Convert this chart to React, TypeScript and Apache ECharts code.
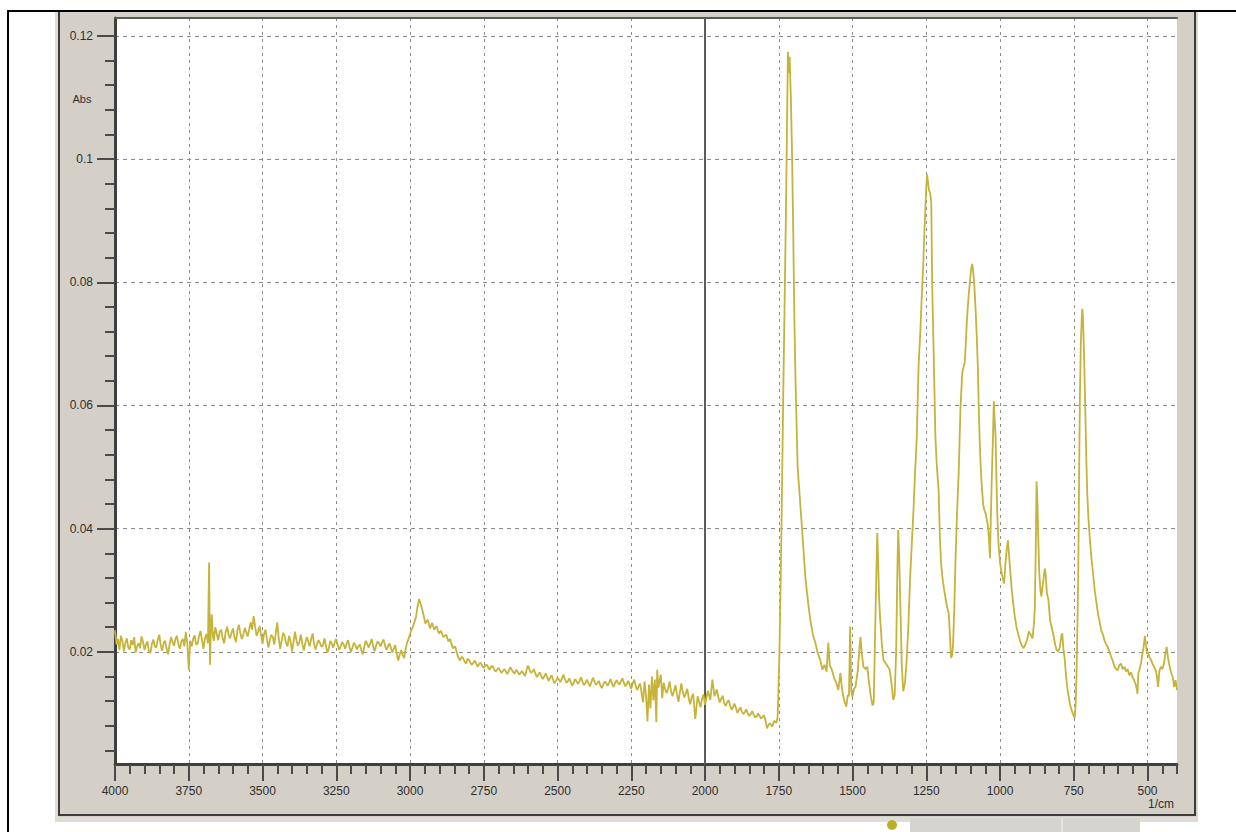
import React, { useEffect, useRef } from "react";
import * as echarts from "echarts";

// Spectrum: [wavenumber (1/cm), absorbance]
const highRegion: [number, number][] = [
  [4000, 0.0235], [3995, 0.0212], [3990, 0.0221], [3985, 0.0203], [3980, 0.0226], [3975, 0.0218],
  [3970, 0.0201], [3965, 0.0214], [3960, 0.0222], [3955, 0.0207], [3950, 0.0204], [3945, 0.0219],
  [3940, 0.0211], [3935, 0.0224], [3930, 0.0199], [3925, 0.0209], [3920, 0.0214], [3915, 0.0206],
  [3910, 0.0225], [3905, 0.0216], [3900, 0.0203], [3895, 0.0212], [3890, 0.0217], [3885, 0.0201],
  [3880, 0.0198], [3875, 0.0213], [3870, 0.022], [3865, 0.0209], [3860, 0.0207], [3855, 0.0219],
  [3850, 0.0228], [3845, 0.0211], [3840, 0.0202], [3835, 0.0215], [3830, 0.0218], [3825, 0.0205],
  [3820, 0.0196], [3815, 0.0212], [3810, 0.0224], [3805, 0.0216], [3800, 0.021], [3795, 0.0221],
  [3790, 0.0226], [3785, 0.0212], [3780, 0.0205], [3775, 0.0217], [3770, 0.0221], [3765, 0.0209],
  [3760, 0.0232], [3755, 0.0214], [3750, 0.0171], [3745, 0.0218], [3740, 0.0209], [3735, 0.0221],
  [3730, 0.0227], [3725, 0.0212], [3720, 0.0213], [3715, 0.0226], [3710, 0.0234], [3705, 0.0219],
  [3700, 0.0205], [3695, 0.0222], [3690, 0.0229], [3685, 0.0214], [3681, 0.0345], [3678, 0.0179],
  [3675, 0.0238], [3672, 0.0261], [3668, 0.0226], [3665, 0.0218], [3660, 0.024], [3655, 0.0229],
  [3650, 0.0219], [3645, 0.0233], [3640, 0.0236], [3635, 0.0222], [3630, 0.0214], [3625, 0.0232],
  [3620, 0.0241], [3615, 0.0228], [3610, 0.0222], [3605, 0.0231], [3600, 0.0238], [3595, 0.0224],
  [3590, 0.0216], [3585, 0.0235], [3580, 0.0244], [3575, 0.023], [3570, 0.0221], [3565, 0.0228],
  [3560, 0.0239], [3555, 0.0232], [3550, 0.0225], [3545, 0.0237], [3540, 0.0248], [3535, 0.0236],
  [3530, 0.0258], [3525, 0.0241], [3520, 0.0226], [3515, 0.0233], [3510, 0.0242], [3505, 0.0228],
  [3500, 0.0213], [3495, 0.0229], [3490, 0.0236], [3485, 0.0221], [3480, 0.0207], [3475, 0.0219],
  [3470, 0.0228], [3465, 0.0224], [3460, 0.0212], [3455, 0.0231], [3450, 0.0248], [3445, 0.0222],
  [3440, 0.0205], [3435, 0.0218], [3430, 0.0231], [3425, 0.0226], [3420, 0.0214], [3415, 0.0209],
  [3410, 0.0226], [3405, 0.0218], [3400, 0.0201], [3395, 0.0215], [3390, 0.0233], [3385, 0.0219],
  [3380, 0.021], [3375, 0.0216], [3370, 0.0228], [3365, 0.0213], [3360, 0.0202], [3355, 0.0214],
  [3350, 0.0224], [3345, 0.0217], [3340, 0.0209], [3335, 0.0221], [3330, 0.023], [3325, 0.0212],
  [3320, 0.0204], [3315, 0.0213], [3310, 0.0219], [3305, 0.0214], [3300, 0.0208], [3295, 0.0211],
  [3290, 0.0222], [3285, 0.021], [3280, 0.0199], [3275, 0.0206], [3270, 0.0218], [3265, 0.0213],
  [3260, 0.0207], [3255, 0.0216], [3250, 0.0221], [3245, 0.0211], [3240, 0.0203], [3235, 0.0209],
  [3230, 0.0216], [3225, 0.0212], [3220, 0.0205], [3215, 0.0213], [3210, 0.0219], [3205, 0.0208],
  [3200, 0.02], [3195, 0.0207], [3190, 0.0215], [3185, 0.0211], [3180, 0.0204], [3175, 0.0209],
  [3170, 0.0212], [3165, 0.0203], [3160, 0.0196], [3155, 0.0208], [3150, 0.0218], [3145, 0.0213],
  [3140, 0.0207], [3135, 0.0214], [3130, 0.0221], [3125, 0.0209], [3120, 0.0201], [3115, 0.021],
  [3110, 0.0217], [3105, 0.0214], [3100, 0.0209], [3095, 0.0215], [3090, 0.022], [3085, 0.0211],
  [3080, 0.0203], [3075, 0.0208], [3070, 0.0214], [3065, 0.0207], [3060, 0.0199], [3055, 0.0205],
  [3050, 0.0211], [3045, 0.0197], [3040, 0.0186], [3035, 0.0195], [3030, 0.0203], [3025, 0.0196],
  [3020, 0.019], [3015, 0.0204], [3010, 0.0215], [3005, 0.0221],
];

const midRegion: [number, number][] = [
  [3000, 0.0229], [2990, 0.0241], [2980, 0.0256], [2975, 0.0272], [2969, 0.0286], [2962, 0.0275],
  [2955, 0.0262], [2948, 0.0246], [2940, 0.0252], [2932, 0.0238], [2925, 0.0247], [2918, 0.0236],
  [2910, 0.0242], [2902, 0.023], [2895, 0.0234], [2887, 0.0224], [2877, 0.0228], [2870, 0.0217],
  [2864, 0.0221], [2855, 0.0206], [2847, 0.0209], [2838, 0.0193],
  [2830, 0.0186], [2825, 0.0192], [2820, 0.019], [2815, 0.0184], [2810, 0.0181], [2805, 0.0189],
  [2800, 0.0187], [2795, 0.0182], [2790, 0.0179], [2785, 0.0183], [2780, 0.0186], [2775, 0.018],
  [2770, 0.0176], [2765, 0.0181], [2760, 0.0182], [2755, 0.0177], [2750, 0.0174], [2745, 0.0178],
  [2740, 0.0179], [2735, 0.0175], [2730, 0.0171], [2725, 0.0176], [2720, 0.0177], [2715, 0.0172],
  [2710, 0.0168], [2705, 0.0171], [2700, 0.0174], [2695, 0.017], [2690, 0.0166], [2685, 0.0169],
  [2680, 0.0172], [2675, 0.0168], [2670, 0.0164], [2665, 0.017], [2660, 0.0175], [2655, 0.0171],
  [2650, 0.0167], [2645, 0.0165], [2640, 0.0171], [2635, 0.0168], [2630, 0.0163], [2625, 0.0166],
  [2620, 0.0169], [2615, 0.0164], [2610, 0.0161], [2605, 0.017], [2600, 0.0178], [2595, 0.0171],
  [2590, 0.0166], [2585, 0.0168], [2580, 0.0172], [2575, 0.0165], [2570, 0.0159], [2565, 0.0163],
  [2560, 0.0167], [2555, 0.0161], [2550, 0.0156], [2545, 0.016], [2540, 0.0165], [2535, 0.0159],
  [2530, 0.0153], [2525, 0.0158], [2520, 0.0162], [2515, 0.0155], [2510, 0.0149], [2505, 0.0153],
  [2500, 0.0158], [2495, 0.0155], [2490, 0.0151], [2485, 0.0157], [2480, 0.0163], [2475, 0.0156],
  [2470, 0.015], [2465, 0.0152], [2460, 0.0157], [2455, 0.0151], [2450, 0.0145], [2445, 0.015],
  [2440, 0.0156], [2435, 0.0152], [2430, 0.0148], [2425, 0.0153], [2420, 0.0159], [2415, 0.0151],
  [2410, 0.0146], [2405, 0.015], [2400, 0.0155], [2395, 0.0149], [2390, 0.0144], [2385, 0.0151],
  [2380, 0.0158], [2375, 0.0152], [2370, 0.0147], [2365, 0.0149], [2360, 0.0153], [2355, 0.0146],
  [2350, 0.0141], [2345, 0.0147], [2340, 0.0152], [2335, 0.0149], [2330, 0.0145], [2325, 0.015],
  [2320, 0.0156], [2315, 0.0148], [2310, 0.0143], [2305, 0.0149], [2300, 0.0154], [2295, 0.015],
  [2290, 0.0147], [2285, 0.0152], [2280, 0.0157], [2275, 0.015], [2270, 0.0144], [2265, 0.0148],
  [2260, 0.0153], [2255, 0.0146], [2250, 0.014], [2245, 0.0149], [2240, 0.0155], [2235, 0.0145],
  [2230, 0.0138], [2225, 0.0144], [2220, 0.0149],
  [2210, 0.0118], [2205, 0.0152], [2200, 0.0129], [2195, 0.0087], [2190, 0.0147], [2185, 0.0108],
  [2180, 0.016], [2175, 0.0121], [2170, 0.0155], [2165, 0.0086], [2162, 0.0171], [2158, 0.0142],
  [2150, 0.0163], [2145, 0.0125], [2140, 0.015], [2135, 0.0139], [2130, 0.0133], [2125, 0.0141],
  [2120, 0.0152], [2115, 0.0136], [2110, 0.0128], [2105, 0.0137], [2100, 0.0146], [2095, 0.0131],
  [2090, 0.0119], [2085, 0.0135], [2080, 0.0149], [2075, 0.0134], [2070, 0.0126], [2065, 0.0133],
  [2060, 0.014], [2055, 0.0124], [2050, 0.0115], [2045, 0.0127], [2040, 0.0132], [2033, 0.0091],
  [2025, 0.0128], [2020, 0.0119], [2015, 0.011], [2010, 0.0124], [2005, 0.0131], [2000, 0.0114],
  [1995, 0.0126], [1990, 0.0137], [1982, 0.0122], [1975, 0.0155], [1968, 0.0128], [1960, 0.0139],
  [1955, 0.0127], [1950, 0.0118], [1945, 0.0124], [1940, 0.0129], [1935, 0.0117], [1930, 0.0112],
  [1925, 0.0118], [1920, 0.0122], [1915, 0.0113], [1910, 0.0106], [1905, 0.011], [1900, 0.0116],
  [1895, 0.0109], [1890, 0.0101], [1885, 0.0106], [1880, 0.011], [1875, 0.0103], [1870, 0.0099],
  [1865, 0.0102], [1860, 0.0107], [1855, 0.01], [1850, 0.0096], [1845, 0.0099], [1840, 0.0104],
  [1835, 0.0098], [1830, 0.0094], [1825, 0.0095], [1820, 0.01], [1815, 0.0096], [1810, 0.0092],
  [1805, 0.0094], [1800, 0.0097], [1795, 0.0089], [1790, 0.0076], [1785, 0.0081], [1780, 0.0084],
  [1772, 0.0079], [1765, 0.0088], [1758, 0.0085], [1754, 0.0094],
];

const fingerprintRegion: [number, number][] = [
  [1752, 0.012], [1748, 0.0192], [1744, 0.03], [1740, 0.0426], [1735, 0.0609], [1730, 0.0771],
  [1726, 0.09], [1722, 0.1052], [1719, 0.1174], [1716, 0.114], [1713, 0.1166], [1709, 0.11],
  [1705, 0.101], [1701, 0.0885], [1697, 0.0739], [1693, 0.0637], [1686, 0.05], [1677, 0.044],
  [1670, 0.0393], [1660, 0.0322], [1650, 0.0278], [1643, 0.0252], [1635, 0.023], [1626, 0.0215],
  [1618, 0.0198], [1610, 0.0188], [1602, 0.0171], [1595, 0.0179], [1588, 0.0168], [1582, 0.0215],
  [1577, 0.0178], [1570, 0.0171], [1562, 0.0157], [1555, 0.015], [1548, 0.0138], [1541, 0.0166],
  [1536, 0.0142], [1531, 0.0127], [1526, 0.0118], [1521, 0.0111], [1516, 0.013], [1512, 0.0128],
  [1508, 0.0241], [1504, 0.0135], [1500, 0.0127], [1495, 0.014], [1490, 0.0143], [1482, 0.017],
  [1476, 0.0209], [1473, 0.0224], [1468, 0.0195], [1463, 0.0176], [1456, 0.0172], [1450, 0.0176],
  [1444, 0.015], [1438, 0.0128], [1432, 0.0113], [1428, 0.0118], [1424, 0.0215], [1419, 0.033],
  [1416, 0.0393], [1413, 0.0345], [1410, 0.029], [1406, 0.0252], [1400, 0.021], [1395, 0.0187],
  [1388, 0.0182], [1380, 0.0176], [1374, 0.0171], [1368, 0.015], [1362, 0.0122], [1357, 0.013],
  [1352, 0.02], [1348, 0.033], [1345, 0.0398], [1342, 0.036], [1338, 0.028], [1333, 0.018],
  [1328, 0.0136], [1322, 0.015], [1316, 0.0189], [1310, 0.025], [1305, 0.0317], [1299, 0.0375],
  [1293, 0.0433], [1288, 0.049], [1282, 0.0549], [1276, 0.0665], [1270, 0.072], [1265, 0.078],
  [1260, 0.083], [1257, 0.0874], [1253, 0.092], [1250, 0.0955], [1247, 0.0975], [1244, 0.0962],
  [1241, 0.095], [1237, 0.0945], [1233, 0.093], [1230, 0.08], [1226, 0.0711], [1222, 0.062],
  [1219, 0.0549], [1214, 0.05], [1208, 0.0462], [1204, 0.039], [1200, 0.0345], [1195, 0.032],
  [1190, 0.0303], [1184, 0.0285], [1178, 0.027], [1174, 0.0263], [1170, 0.023], [1166, 0.019],
  [1162, 0.0195], [1159, 0.0213], [1155, 0.027], [1151, 0.0346], [1146, 0.042], [1140, 0.0491],
  [1134, 0.0595], [1128, 0.0653], [1124, 0.0662], [1120, 0.0668], [1116, 0.07], [1112, 0.074],
  [1106, 0.078], [1101, 0.0805], [1098, 0.0821], [1094, 0.083], [1091, 0.0818], [1087, 0.0795],
  [1083, 0.0758], [1079, 0.0715], [1075, 0.066], [1072, 0.0595], [1069, 0.0545], [1066, 0.0508],
  [1062, 0.047], [1057, 0.0439], [1053, 0.043], [1049, 0.0425], [1045, 0.0415], [1041, 0.0405],
  [1037, 0.038], [1034, 0.0352], [1031, 0.042], [1028, 0.048], [1024, 0.0545], [1021, 0.0607],
  [1018, 0.0575], [1015, 0.0549], [1012, 0.048], [1009, 0.042], [1005, 0.0375], [1000, 0.0345],
  [995, 0.033], [990, 0.0318], [986, 0.0311], [982, 0.034], [977, 0.0368], [973, 0.0381],
  [969, 0.0355], [965, 0.033], [960, 0.03], [955, 0.0278], [950, 0.0258], [944, 0.024],
  [938, 0.0228], [932, 0.0218], [926, 0.021], [920, 0.0206], [914, 0.0212], [908, 0.022],
  [902, 0.0233], [896, 0.0228], [890, 0.0222], [885, 0.0245], [882, 0.0271], [879, 0.036],
  [876, 0.0477], [873, 0.044], [870, 0.038], [867, 0.033], [863, 0.03], [860, 0.029],
  [856, 0.0305], [852, 0.032], [848, 0.0335], [845, 0.0325], [841, 0.0295], [836, 0.0285],
  [830, 0.025], [824, 0.0238], [818, 0.0225], [813, 0.0212], [808, 0.0203], [802, 0.0201],
  [797, 0.0208], [792, 0.0226], [789, 0.023], [785, 0.0205], [781, 0.019], [776, 0.016],
  [770, 0.0135], [763, 0.0116], [757, 0.0105], [752, 0.0098], [747, 0.0093], [744, 0.011],
  [741, 0.0154], [738, 0.023], [735, 0.0316], [732, 0.0478], [729, 0.062], [726, 0.07],
  [723, 0.074], [721, 0.0757], [719, 0.0745], [716, 0.07], [713, 0.064], [710, 0.0575],
  [707, 0.0505], [704, 0.0455], [700, 0.0415], [695, 0.038], [690, 0.0352], [685, 0.033],
  [679, 0.03], [673, 0.028], [668, 0.0262], [662, 0.0248], [657, 0.0235], [651, 0.0228],
  [646, 0.0219], [640, 0.0212], [635, 0.0208], [629, 0.02], [623, 0.0192], [618, 0.0186],
  [612, 0.0176], [606, 0.0172], [601, 0.017], [596, 0.0178], [590, 0.0181], [584, 0.0172],
  [578, 0.0176], [573, 0.0168], [567, 0.0172], [562, 0.0162], [556, 0.0167], [550, 0.0158],
  [545, 0.0154], [540, 0.0147], [536, 0.0139], [534, 0.0132], [531, 0.0165], [527, 0.0172],
  [522, 0.0181], [518, 0.0195], [513, 0.0208], [509, 0.0226], [505, 0.021], [502, 0.0197],
  [498, 0.02], [494, 0.0192], [489, 0.0188], [483, 0.0181], [478, 0.0176], [472, 0.017],
  [468, 0.016], [464, 0.0143], [460, 0.0168], [455, 0.0176], [450, 0.0172], [444, 0.0181],
  [440, 0.0195], [435, 0.0208], [431, 0.0192], [427, 0.0181], [423, 0.0172], [419, 0.0165],
  [414, 0.0158], [410, 0.0143], [405, 0.0154], [400, 0.0138],
];

const xMajorTicks = [4000, 3750, 3500, 3250, 3000, 2750, 2500, 2250, 2000, 1750, 1500, 1250, 1000, 750, 500];
const yMajorTicks = [0.02, 0.04, 0.06, 0.08, 0.1, 0.12];
const cursorWavenumber = 2000;
const xRange = [400, 4000];
const yRange = [0.0018, 0.1229];
const xMinorStep = 50;
const yMinorStep = 0.004;

const xMinorTicks: number[] = [];
for (let v = xRange[0]; v <= xRange[1]; v += xMinorStep) xMinorTicks.push(v);
const yMinorTicks: number[] = [];
for (let k = 1; k * yMinorStep <= yRange[1]; k++) yMinorTicks.push(Number((k * yMinorStep).toFixed(4)));

const LINE_COLOR = "#c6b33a";
const AXIS_DARK = "#3f3f3f";
const TICK_COLOR = "#4a4a4a";
const GRID_DASH = "#8e8e8e";
const PANEL = "#d4d0c8";
const FONT = "'Liberation Sans', Arial, sans-serif";

export default function App() {
  const ref = useRef<HTMLDivElement>(null);

  useEffect(() => {
    if (!ref.current) return;
    const chart = echarts.init(ref.current, null, { renderer: "svg" });
    const spectrum = [...highRegion, ...midRegion, ...fingerprintRegion];

    const labelStyle = { color: "#2e2e2e", fontSize: 12, fontFamily: FONT };

    chart.setOption({
      animation: false,
      backgroundColor: "#ffffff",
      grid: { left: 115, top: 18, right: 59, bottom: 68, show: true, backgroundColor: "#ffffff", borderWidth: 0 },
      xAxis: [
        {
          type: "value", min: xRange[0], max: xRange[1], inverse: true, position: "bottom",
          axisLine: { show: true, onZero: false, lineStyle: { color: AXIS_DARK, width: 3 } },
          axisTick: { show: true, customValues: xMajorTicks, length: 17, lineStyle: { color: TICK_COLOR, width: 2 } },
          axisLabel: { show: true, customValues: xMajorTicks, margin: 21, ...labelStyle, formatter: (v: number) => String(v) },
          splitLine: { show: true, lineStyle: { color: GRID_DASH, width: 1, type: [3, 4] } },
        },
        {
          type: "value", min: xRange[0], max: xRange[1], inverse: true, position: "bottom",
          axisLine: { show: false, onZero: false },
          axisTick: { show: true, customValues: xMinorTicks, length: 10, lineStyle: { color: TICK_COLOR, width: 2 } },
          axisLabel: { show: false },
          splitLine: { show: false },
        },
        {
          type: "value", min: xRange[0], max: xRange[1], inverse: true, position: "top",
          axisLine: { show: true, onZero: false, lineStyle: { color: "#5a5a5a", width: 2 } },
          axisTick: { show: false }, axisLabel: { show: false }, splitLine: { show: false },
        },
      ],
      yAxis: [
        {
          type: "value", min: yRange[0], max: yRange[1], position: "left",
          axisLine: { show: true, onZero: false, lineStyle: { color: AXIS_DARK, width: 3 } },
          axisTick: { show: true, customValues: yMajorTicks, length: 18, lineStyle: { color: TICK_COLOR, width: 2 } },
          axisLabel: {
            show: true, customValues: yMajorTicks, margin: 22, ...labelStyle,
            formatter: (v: number) => String(Number(v.toFixed(3))),
          },
          splitLine: { show: true, lineStyle: { color: GRID_DASH, width: 1, type: [4, 4] } },
        },
        {
          type: "value", min: yRange[0], max: yRange[1], position: "left",
          axisLine: { show: false, onZero: false },
          axisTick: { show: true, customValues: yMinorTicks, length: 10, lineStyle: { color: TICK_COLOR, width: 2 } },
          axisLabel: { show: false },
          splitLine: { show: false },
        },
      ],
      series: [
        {
          type: "line",
          xAxisIndex: 0,
          yAxisIndex: 0,
          data: spectrum,
          showSymbol: false,
          symbol: "none",
          lineStyle: { color: LINE_COLOR, width: 1.8 },
          z: 5,
          markLine: {
            silent: true,
            symbol: ["none", "none"],
            label: { show: false },
            lineStyle: { color: "#5c5c5c", width: 2, type: "solid" },
            data: [{ xAxis: cursorWavenumber }],
            z: 4,
          },
        },
      ],
      graphic: [
        // window panel
        { type: "rect", z: -20, shape: { x: 55, y: 12, width: 1143, height: 810 }, style: { fill: "#dedcd6" } },
        { type: "rect", z: -19, shape: { x: 58, y: 12, width: 1139, height: 805 }, style: { fill: PANEL } },
        { type: "line", z: -18, shape: { x1: 59, y1: 12, x2: 59, y2: 816 }, style: { stroke: "#3c3c3c", lineWidth: 2 } },
        { type: "line", z: -18, shape: { x1: 1195, y1: 12, x2: 1195, y2: 816 }, style: { stroke: "#3c3c3c", lineWidth: 2 } },
        { type: "line", z: -18, shape: { x1: 59, y1: 815, x2: 1196, y2: 815 }, style: { stroke: "#3c3c3c", lineWidth: 2 } },
        // bottom strip
        { type: "rect", z: -18, shape: { x: 910, y: 818, width: 230, height: 14 }, style: { fill: "#d6d4ce" } },
        { type: "line", z: -17, shape: { x1: 1062, y1: 818, x2: 1062, y2: 832 }, style: { stroke: "#f4f4f4", lineWidth: 1 } },
        { type: "circle", z: -17, shape: { cx: 892, cy: 825, r: 5 }, style: { fill: "#b9b025" } },
        // outer black frame
        { type: "line", z: 50, shape: { x1: 8, y1: 10, x2: 8, y2: 832 }, style: { stroke: "#000", lineWidth: 2 } },
        { type: "line", z: 50, shape: { x1: 7, y1: 11, x2: 1236, y2: 11 }, style: { stroke: "#000", lineWidth: 2 } },
        // axis titles
        { type: "text", z: 50, x: 82, y: 99, style: { text: "Abs", fill: "#2e2e2e", fontSize: 11, fontFamily: FONT, align: "center", verticalAlign: "middle" } },
        { type: "text", z: 50, x: 1161, y: 804, style: { text: "1/cm", fill: "#2e2e2e", fontSize: 12, fontFamily: FONT, align: "center", verticalAlign: "middle" } },
      ],
    });

    return () => chart.dispose();
  }, []);

  return (
    <div
      ref={ref}
      style={{ position: "fixed", left: 0, top: 0, width: 1236, height: 832, background: "#fff" }}
    />
  );
}
